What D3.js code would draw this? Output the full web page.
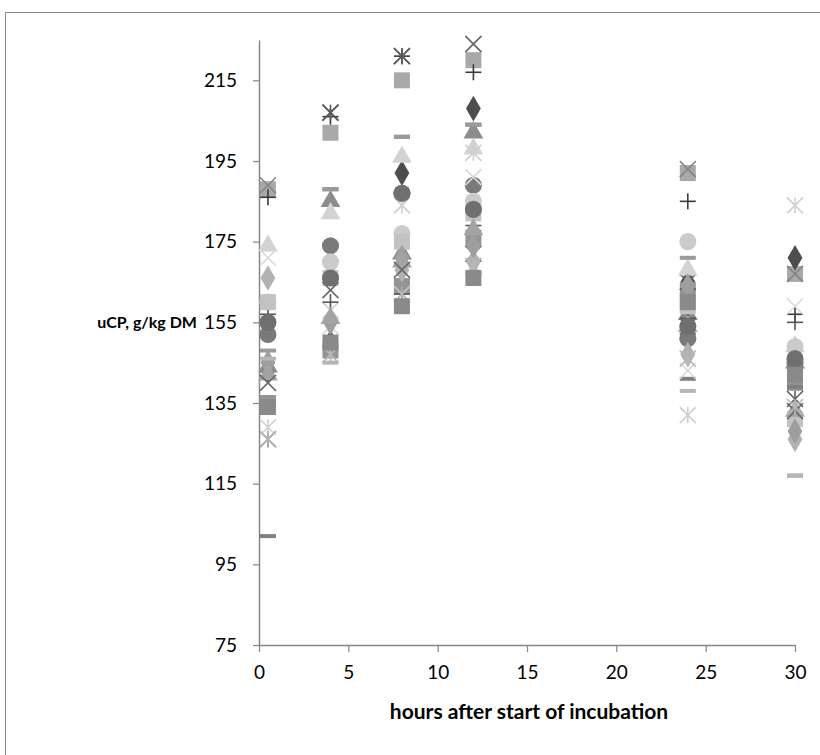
<!DOCTYPE html>
<html>
<head>
<meta charset="utf-8">
<script src="https://cdn.jsdelivr.net/npm/d3@7"></script>
<style>
  body { margin: 0; background: #fff; }
  svg { display: block; font-family: Lato, "Open Sans", sans-serif; }
</style>
</head>
<body>
<div id="chart"></div>
<script>
// sampling times (h)
const hours = [0.5, 4, 8, 12, 24, 30];

// each series: marker type, grey shade, uCP values at each time
const markers = ["square", "x", "plus", "diamond", "square", "triangle", "asterisk", "circle",
                 "dash", "diamond", "triangle", "x", "asterisk", "circle", "plus", "dash",
                 "square", "diamond", "triangle", "x", "asterisk", "circle", "dash", "square"];
const shades = ["#a9a9a9", "#858585", "#3a3a3a", "#4d4d4d", "#949494", "#8c8c8c", "#5c5c5c", "#7a7a7a",
                "#808080", "#b2b2b2", "#d3d3d3", "#d9d9d9", "#cfcfcf", "#cbcbcb", "#555555", "#9a9a9a",
                "#c2c2c2", "#9e9e9e", "#a3a3a3", "#6a6a6a", "#b8b8b8", "#6f6f6f", "#b5b5b5", "#8a8a8a"];
const values = [
  [188, 202, 215, 220, 192, 167],
  [189, 207, 221, 224, 193, 167],
  [186, 206, 221, 217, 185, 157],
  [143, 150, 192, 208, 165, 171],
  [135, 148, 164, 176, 163, 140],
  [144, 185, 172, 202, 157, 145],
  [126, 207, 221, 172, 165, 136],
  [152, 174, 187, 189, 151, 145],
  [102, 188, 201, 204, 141, 139],
  [166, 167, 168, 170, 147, 126],
  [174, 182, 196, 198, 168, 149],
  [171, 154, 162, 191, 143, 159],
  [129, 158, 184, 197, 132, 184],
  [160, 170, 177, 185, 175, 149],
  [157, 160, 162, 179, 156, 155],
  [148, 188, 201, 204, 171, 117],
  [160, 166, 175, 182, 159, 131],
  [145, 155, 171, 174, 164, 128],
  [142, 156, 170, 178, 154, 133],
  [140, 163, 168, 224, 154, 133],
  [126, 147, 162, 169, 146, 134],
  [155, 166, 187, 183, 154, 146],
  [146, 145, 158, 167, 138, 117],
  [134, 150, 159, 166, 160, 142]
];

const yTicks = [75, 95, 115, 135, 155, 175, 195, 215];
const xTicks = [0, 5, 10, 15, 20, 25, 30];

const width = 820, height = 755;
const svg = d3.select("#chart").append("svg")
    .attr("width", width)
    .attr("height", height);

// chart area frame
svg.append("rect")
    .attr("x", 5.5).attr("y", 12.5)
    .attr("width", 840).attr("height", 760)
    .attr("fill", "#fff")
    .attr("stroke", "#8a8a8a")
    .attr("stroke-width", 1);

const x = d3.scaleLinear().domain([0, 30]).range([259, 795]);
const y = d3.scaleLinear().domain([75, 225]).range([645, 40]);

// y axis
const yAxis = svg.append("g")
    .attr("transform", "translate(259,0)")
    .call(d3.axisLeft(y).tickValues(yTicks).tickSize(6).tickPadding(16).tickSizeOuter(0));
// x axis
const xAxis = svg.append("g")
    .attr("transform", "translate(0,645)")
    .call(d3.axisBottom(x).tickValues(xTicks).tickSize(7).tickPadding(14).tickSizeOuter(0));

[yAxis, xAxis].forEach(g => {
    g.select(".domain").attr("stroke", "#868686").attr("stroke-width", 1.5);
    g.selectAll(".tick line").attr("stroke", "#868686").attr("stroke-width", 1.2);
    g.selectAll("text")
        .attr("fill", "#000")
        .style("font-size", "19px")
        .style("font-family", "Lato, 'Open Sans', sans-serif");
});

svg.append("text")
    .attr("x", 197).attr("y", 328)
    .attr("text-anchor", "end")
    .style("font-size", "16px")
    .style("font-weight", "bold")
    .text("uCP, g/kg DM");

svg.append("text")
    .attr("x", 529).attr("y", 719)
    .attr("text-anchor", "middle")
    .style("font-size", "21px")
    .style("font-weight", "bold")
    .text("hours after start of incubation");

// marker shapes
const symPath = {
    square: d3.symbol(d3.symbolSquare, 256)(),
    diamond: d3.symbol(d3.symbolDiamond, 190)(),
    triangle: d3.symbol(d3.symbolTriangle, 170)(),
    circle: d3.symbol(d3.symbolCircle, 230)()
};

const points = [];
values.forEach((vals, s) => {
    vals.forEach((v, i) => points.push({ s, t: hours[i], v }));
});

const plot = svg.append("g");
const marks = plot.selectAll("g.pt")
    .data(points)
    .join("g")
    .attr("class", "pt")
    .attr("transform", d => `translate(${x(d.t)},${y(d.v)})`);

marks.each(function (d) {
    const g = d3.select(this);
    const type = markers[d.s];
    const col = shades[d.s];
    if (symPath[type]) {
        g.append("path").attr("d", symPath[type]).attr("fill", col);
    } else if (type === "dash") {
        g.append("rect").attr("x", -8).attr("y", -2).attr("width", 16).attr("height", 4).attr("fill", col);
    } else {
        const r = 8;
        const lines = [];
        if (type === "x" || type === "asterisk") lines.push([-r, -r, r, r], [-r, r, r, -r]);
        if (type === "plus" || type === "asterisk") lines.push([0, -r, 0, r]);
        if (type === "plus") lines.push([-r, 0, r, 0]);
        lines.forEach(l => g.append("line")
            .attr("x1", l[0]).attr("y1", l[1]).attr("x2", l[2]).attr("y2", l[3])
            .attr("stroke", col).attr("stroke-width", 1.6));
    }
});
</script>
</body>
</html>
